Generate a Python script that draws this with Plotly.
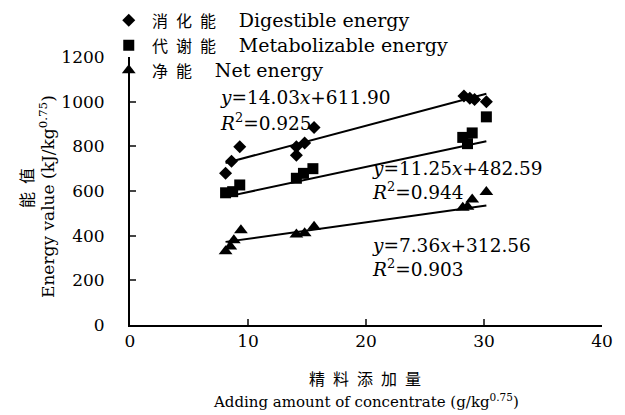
import plotly.graph_objects as go

# Data
de_x = [8.1, 8.6, 9.3, 14.1, 14.1, 14.8, 15.6, 28.3, 28.8, 29.2, 30.2]
de_y = [680, 733, 798, 760, 798, 815, 884, 1025, 1015, 1010, 1000]
me_x = [8.1, 8.7, 9.3, 14.1, 14.7, 15.5, 28.2, 28.6, 29.0, 30.2]
me_y = [592, 597, 627, 657, 679, 700, 840, 812, 860, 932]
ne_x = [8.1, 8.5, 8.8, 9.4, 14.1, 14.8, 15.6, 28.2, 28.6, 29.0, 30.2]
ne_y = [330, 352, 380, 424, 405, 411, 440, 525, 530, 562, 596]

fits = {
    "de": (14.03, 611.90),
    "me": (11.25, 482.59),
    "ne": (7.36, 312.56),
}

x_ticks = [0, 10, 20, 30, 40]
y_ticks = [0, 200, 400, 600, 800, 1000, 1200]

SERIF = "DejaVu Serif, Noto Sans CJK SC, serif"
CJK = "Noto Sans CJK SC"
EN = "\u2002"   # en space
EM = "\u2003"   # em space
TH = "\u2009"   # thin space


def cjk(s, size=16):
    return f'<span style="font-family:{CJK};font-size:{size}px">{TH}{EN.join(s)}</span>'


def en(s, size=19):
    return f'<span style="font-size:{size}px">{s}</span>'


fig = go.Figure()

series = [
    (cjk("消化能") + en(EM + TH + "Digestible energy"), de_x, de_y, "diamond", 10, "de"),
    (cjk("代谢能") + en(EM + TH + "Metabolizable energy"), me_x, me_y, "square", 11, "me"),
    (cjk("净能") + en(EM + TH + "Net energy"), ne_x, ne_y, "triangle-up", 12, "ne"),
]

for name, xs, ys, sym, sz, key in series:
    fig.add_trace(go.Scatter(
        x=xs, y=ys, mode="markers", name=name,
        marker=dict(symbol=sym, size=sz, color="black"),
    ))
for name, xs, ys, sym, sz, key in series:
    a, b = fits[key]
    x0, x1 = min(xs), max(xs)
    fig.add_trace(go.Scatter(
        x=[x0, x1], y=[a * x0 + b, a * x1 + b], mode="lines",
        line=dict(color="black", width=2), showlegend=False, hoverinfo="skip",
    ))

# page body has an 8px margin: figure sized so plot area lands at
# x 130..602, y 57..325 in the 625x415 window
fig.update_layout(
    width=617, height=407,
    margin=dict(l=122, r=23, t=49, b=90, autoexpand=False),
    paper_bgcolor="white", plot_bgcolor="white",
    font=dict(family=SERIF, size=17, color="black"),
    showlegend=True,
    legend=dict(
        x=-0.045, y=1.203, xanchor="left", yanchor="top",
        bgcolor="rgba(0,0,0,0)", font=dict(family=SERIF, size=17),
        tracegroupgap=0, itemwidth=30,
    ),
    xaxis=dict(
        range=[0, 40], tickvals=x_ticks, ticks="inside", ticklen=6, tickwidth=1.5,
        showline=True, linecolor="black", linewidth=2, showgrid=False, zeroline=False,
        tickfont=dict(family=SERIF, size=17), ticklabelstandoff=0,
    ),
    yaxis=dict(
        range=[0, 1200], tickvals=y_ticks, ticks="inside", ticklen=6, tickwidth=1.5,
        showline=True, linecolor="black", linewidth=2, showgrid=False, zeroline=False,
        tickfont=dict(family=SERIF, size=17), ticklabelstandoff=20,
    ),
)

ann = [
    ("<i>y</i>=14.03<i>x</i>+611.90", 218, 97),
    ("<i>R</i><sup>2</sup>=0.925", 218, 122),
    ("<i>y</i>=11.25<i>x</i>+482.59", 370, 168),
    ("<i>R</i><sup>2</sup>=0.944", 370, 191),
    ("<i>y</i>=7.36<i>x</i>+312.56", 370, 245),
    ("<i>R</i><sup>2</sup>=0.903", 370, 268),
]
for txt, px, py in ann:
    fig.add_annotation(
        text=txt, xref="paper", yref="paper",
        x=(px - 130) / 472, y=(325 - py) / 268,
        xanchor="left", yanchor="middle", showarrow=False,
        font=dict(family=SERIF, size=18.5),
    )

# Axis titles
fig.add_annotation(text=EN.join("能值"), xref="paper", yref="paper",
                   x=(26 - 130) / 472, y=(325 - 188) / 268, textangle=-90,
                   xanchor="center", yanchor="middle", showarrow=False,
                   font=dict(family=CJK, size=16))
fig.add_annotation(text="Energy value (kJ/kg<sup>0.75</sup>)", xref="paper", yref="paper",
                   x=(47 - 130) / 472, y=(325 - 197) / 268, textangle=-90,
                   xanchor="center", yanchor="middle", showarrow=False,
                   font=dict(family=SERIF, size=17))
fig.add_annotation(text=EN.join("精料添加量"), xref="paper", yref="paper",
                   x=(365 - 130) / 472, y=(325 - 378) / 268,
                   xanchor="center", yanchor="middle", showarrow=False,
                   font=dict(family=CJK, size=16))
fig.add_annotation(text="Adding amount of concentrate (g/kg<sup>0.75</sup>)", xref="paper", yref="paper",
                   x=(366 - 130) / 472, y=(325 - 401) / 268,
                   xanchor="center", yanchor="middle", showarrow=False,
                   font=dict(family=SERIF, size=15))

fig.write_html("out.html")
